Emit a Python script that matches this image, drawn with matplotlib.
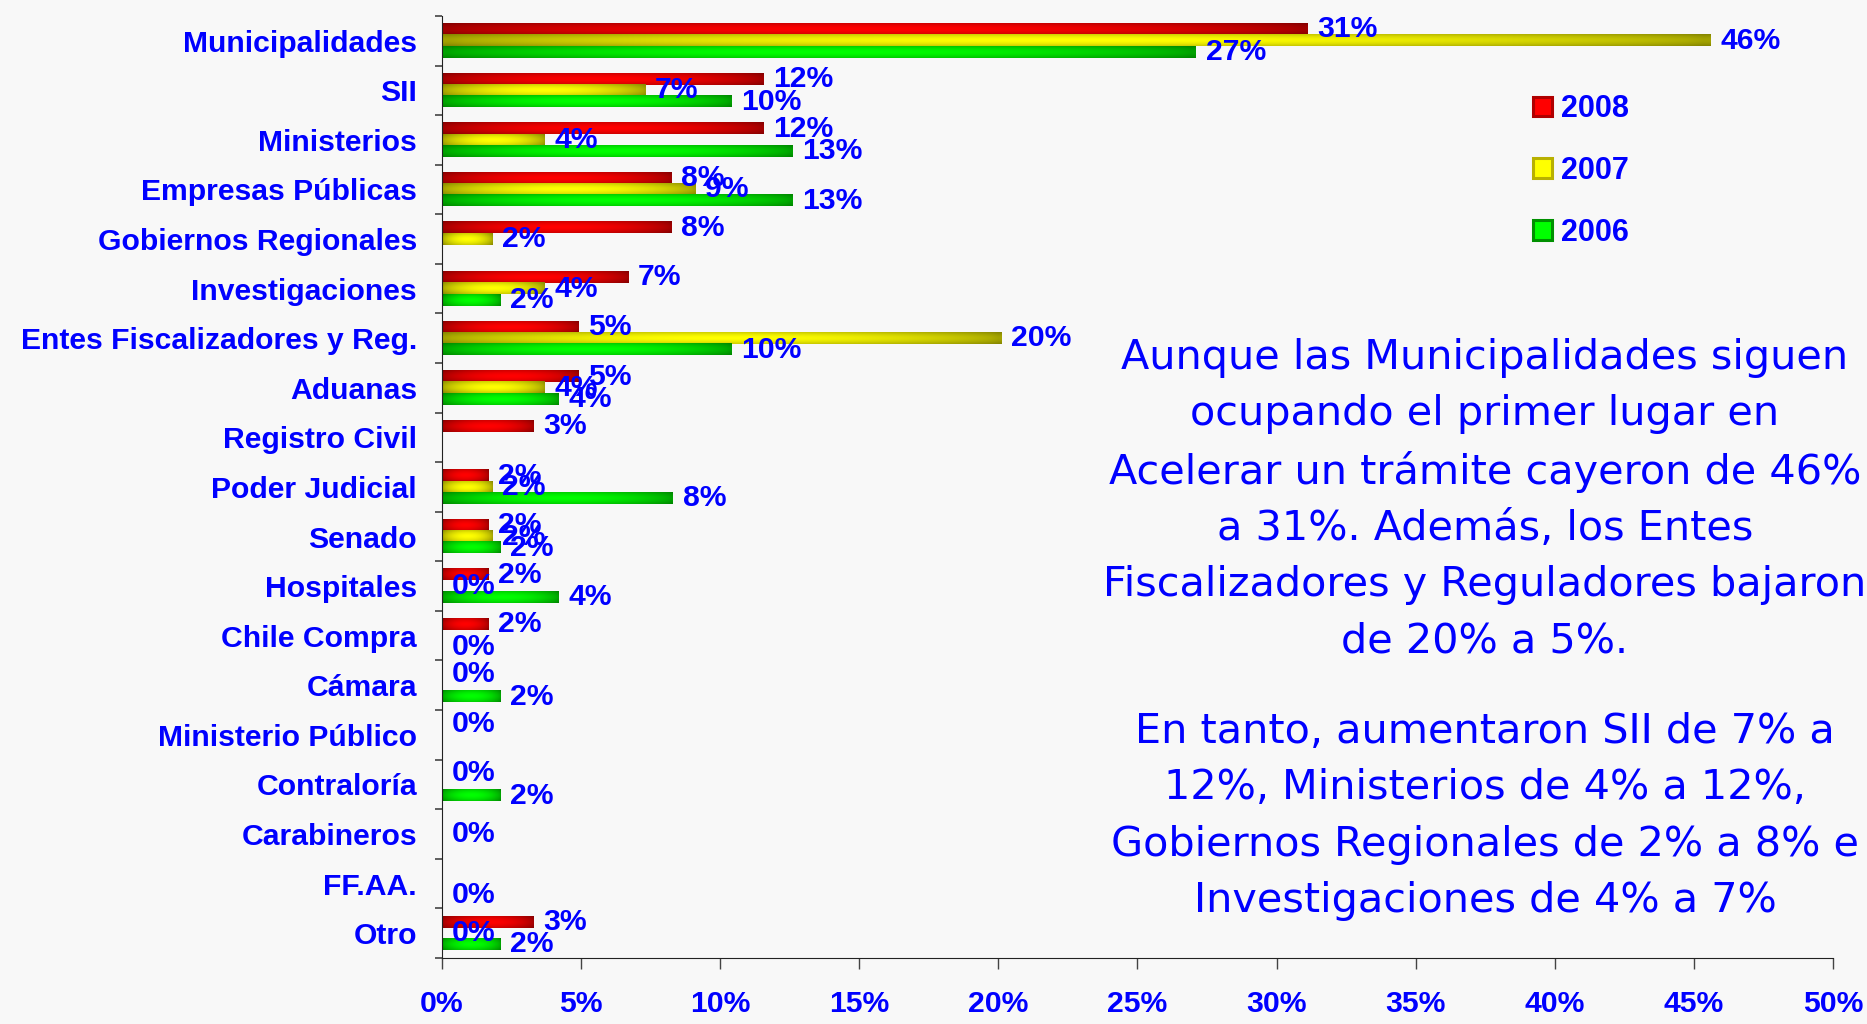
import numpy as np
import matplotlib.pyplot as plt
from matplotlib.patches import Patch

categories = ["Municipalidades", "SII", "Ministerios", "Empresas Públicas",
              "Gobiernos Regionales", "Investigaciones", "Entes Fiscalizadores y Reg.",
              "Aduanas", "Registro Civil", "Poder Judicial", "Senado", "Hospitales",
              "Chile Compra", "Cámara", "Ministerio Público", "Contraloría",
              "Carabineros", "FF.AA.", "Otro"]

# None = no bar and no label
v2008 = [31.1, 11.55, 11.55, 8.25, 8.25, 6.7, 4.9, 4.9, 3.3, 1.67, 1.67, 1.67,
         1.67, 0, 0, 0, None, None, 3.3]
v2007 = [45.6, 7.3, 3.7, 9.1, 1.8, 3.7, 20.1, 3.7, None, 1.8, 1.8, 0,
         None, None, None, None, 0, None, 0]
v2006 = [27.1, 10.4, 12.6, 12.6, None, 2.1, 10.4, 4.2, None, 8.3, 2.1, 4.2,
         0, 2.1, None, 2.1, None, 0, 2.1]

years = ["2008", "2007", "2006"]
xticks = [0, 5, 10, 15, 20, 25, 30, 35, 40, 45, 50]

texto1 = ("Aunque las Municipalidades siguen\nocupando el primer lugar en\n"
          "Acelerar un trámite cayeron de 46%\na 31%. Además, los Entes\n"
          "Fiscalizadores y Reguladores bajaron\nde 20% a 5%.")
texto2 = ("En tanto, aumentaron SII de 7% a\n12%, Ministerios de 4% a 12%,\n"
          "Gobiernos Regionales de 2% a 8% e\nInvestigaciones de 4% a 7%")

blue = "#0000FF"
bg = "#F8F8F8"
bright = [(1.0, 0.0, 0.0), (1.0, 1.0, 0.0), (0.0, 1.0, 0.0)]
edge = ["#B00000", "#B8B000", "#009000"]

plt.rcParams['font.family'] = ['Liberation Sans', 'DejaVu Sans']
fs = 21.7

fig = plt.figure(figsize=(18.67, 10.24), dpi=100, facecolor=bg)
ax = fig.add_axes([0.2367, 0.0645, 0.9818 - 0.2367, 0.9844 - 0.0645], facecolor=bg)

n = len(categories)
pos = np.arange(n)
h = 0.228


def shade(patch, rgb):
    # cylinder-like shading: dark at the ends, bright in the middle
    x0, y0 = patch.get_x(), patch.get_y()
    w, hh = patch.get_width(), patch.get_height()
    if w <= 0:
        return
    u = np.linspace(0, 1, 80)
    v = np.linspace(0, 1, 20)
    fx = 0.64 + 0.36 * np.sin(np.pi * u) ** 0.7
    gy = 0.82 + 0.18 * np.sin(np.pi * v)
    k = np.outer(gy, fx)[..., None]
    img = np.clip(np.array(rgb)[None, None, :] * k, 0, 1)
    ax.imshow(img, extent=(x0, x0 + w, y0 + hh, y0), aspect='auto',
              interpolation='bilinear', zorder=2)


for s, vals in enumerate([v2008, v2007, v2006]):
    offs = (s - 1) * h
    for i, v in enumerate(vals):
        if v is None:
            continue
        bar = ax.barh(pos[i] + offs, v, height=h, color=bright[s], edgecolor='none', zorder=1)
        shade(bar.patches[0], bright[s])
        ax.annotate(f"{v:.0f}%", (v, pos[i] + offs), xytext=(7, 0),
                    textcoords='offset points', va='center', ha='left',
                    fontsize=fs, fontweight='bold', color=blue, zorder=5)

ax.set_xlim(0, 50)
ax.set_ylim(n - 0.5, -0.5)

ax.set_yticks(pos)
ax.set_yticklabels(categories, fontsize=fs, fontweight='bold', color=blue)
ax.set_yticks(np.arange(n + 1) - 0.5, minor=True)
ax.tick_params(axis='y', which='major', length=0, pad=18)
ax.tick_params(axis='y', which='minor', length=5, width=1.2, color='#444444')

ax.set_xticks(xticks)
ax.set_xticklabels([f"{t}%" for t in xticks], fontsize=fs, fontweight='bold', color=blue)
ax.tick_params(axis='x', length=8, width=1, color='#444444', pad=15)

for side in ['top', 'right']:
    ax.spines[side].set_visible(False)
ax.spines['left'].set_color('#222222')
ax.spines['bottom'].set_color('#222222')

handles = [Patch(facecolor=bright[s], edgecolor=edge[s], linewidth=2.2) for s in range(3)]
leg = fig.legend(handles, years, loc='upper left', bbox_to_anchor=(1518 / 1867, 1 - 79 / 1024),
                 frameon=False, borderpad=0, labelspacing=1.04, handlelength=0.62,
                 handleheight=0.62, handletextpad=0.3,
                 prop={'size': 22, 'weight': 'bold'})
for t in leg.get_texts():
    t.set_color(blue)

fig.text(1485 / 1867, 1 - 499.5 / 1024, texto1, ha='center', va='center',
         multialignment='center', fontsize=29.8, color=blue, linespacing=1.52,
         family='DejaVu Sans')
fig.text(1485 / 1867, 1 - 816.5 / 1024, texto2, ha='center', va='center',
         multialignment='center', fontsize=29.8, color=blue, linespacing=1.52,
         family='DejaVu Sans')

fig.savefig("out.png", dpi=100, facecolor=bg)
